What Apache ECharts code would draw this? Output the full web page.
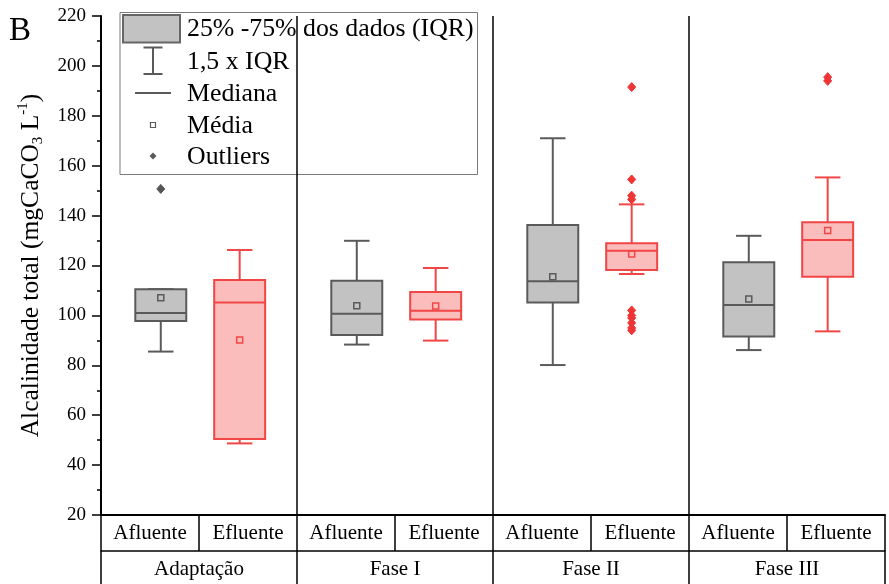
<!DOCTYPE html>
<html>
<head>
<meta charset="utf-8">
<script src="https://cdn.jsdelivr.net/npm/echarts@6/dist/echarts.min.js"></script>
<style>
  html, body { margin: 0; padding: 0; background: #fff; }
  #chart { width: 889px; height: 584px; }
</style>
</head>
<body>
<div id="chart"></div>
<script>
// Alkalinity (mgCaCO3 L-1) per phase, influent vs effluent
const phases = ['Adaptação', 'Fase I', 'Fase II', 'Fase III'];
const streams = ['Afluente', 'Efluente'];

// One entry per box, phase by phase: Afluente then Efluente
const whiskerLow  = [85.5, 48.7, 88.3, 89.9, 80.1, 116.6, 86.1, 93.6];
const q1          = [97.8, 50.5, 92.1, 98.4, 105.2, 118.2, 91.5, 115.5];
const median      = [101.0, 105.2, 100.7, 101.9, 113.7, 125.9, 104.2, 130.2];
const q3          = [110.5, 114.2, 113.9, 109.4, 136.2, 128.9, 121.3, 137.3];
const whiskerHigh = [110.5, 126.2, 129.9, 119.0, 171.0, 144.5, 131.9, 155.3];
const mean        = [107.1, 90.1, 103.9, 103.8, 115.5, 124.6, 106.6, 134.0];
const outliers = [
  [150.7],
  [],
  [],
  [],
  [],
  [191.5, 154.5, 148, 146.5, 102, 100, 99, 97, 95, 94],
  [],
  [195.5, 194]
];

const yMin = 20, yMax = 220, yStep = 20;

const categories = phases.flatMap(() => streams);

const serif = 'Liberation Serif, Times New Roman, serif';
// stroke / fill for Afluente (grey) and Efluente (red)
const STYLE = [
  { stroke: '#5a5a5a', fill: '#c2c2c2', dot: '#555555' },
  { stroke: '#f04646', fill: '#fbbcbc', dot: '#ee3434' }
];
// boxes sit slightly toward the centre of their phase
const SHIFT = [0.11, -0.085];
const BOX_W = 0.52, CAP_W = 0.26;

function boxX(api, i) {
  const band = api.size([1, 0])[0];
  return { cx: api.coord([i, yMin])[0] + SHIFT[i % 2] * band, band };
}

const boxData = categories.map((c, i) => [i, whiskerLow[i], q1[i], median[i], q3[i], whiskerHigh[i]]);
const meanData = categories.map((c, i) => [i, mean[i]]);
const outlierData = [];
outliers.forEach((list, i) => list.forEach(v => outlierData.push([i, v])));

function renderBox(params, api) {
  const i = api.value(0);
  const st = STYLE[i % 2];
  const { cx, band } = boxX(api, i);
  const hw = band * BOX_W / 2, cw = band * CAP_W / 2;
  const y = k => api.coord([i, api.value(k)])[1];
  const line = (x1, y1, x2, y2) => ({
    type: 'line',
    shape: { x1, y1, x2, y2 },
    style: { stroke: st.stroke, lineWidth: 2 }
  });
  return {
    type: 'group',
    children: [
      line(cx, y(5), cx, y(4)),
      line(cx, y(2), cx, y(1)),
      line(cx - cw, y(5), cx + cw, y(5)),
      line(cx - cw, y(1), cx + cw, y(1)),
      {
        type: 'rect',
        shape: { x: cx - hw, y: y(4), width: 2 * hw, height: y(2) - y(4) },
        style: { fill: st.fill, stroke: st.stroke, lineWidth: 2 }
      },
      line(cx - hw, y(3), cx + hw, y(3))
    ]
  };
}

function renderMean(params, api) {
  const i = api.value(0);
  const st = STYLE[i % 2];
  const { cx } = boxX(api, i);
  const cy = api.coord([i, api.value(1)])[1];
  return {
    type: 'rect',
    shape: { x: cx - 3, y: cy - 3, width: 6, height: 6 },
    style: { fill: 'none', stroke: st.stroke, lineWidth: 1.5 }
  };
}

function renderOutlier(params, api) {
  const i = api.value(0);
  const st = STYLE[i % 2];
  const { cx } = boxX(api, i);
  const cy = api.coord([i, api.value(1)])[1];
  return {
    type: 'polygon',
    shape: { points: [[cx, cy - 4.5], [cx + 4, cy], [cx, cy + 4.5], [cx - 4, cy]] },
    style: { fill: st.dot, stroke: st.dot, lineWidth: 1 }
  };
}

// Legend drawn as a framed key in the upper-left corner
const legendGrey = '#5a5a5a';
const legendText = (text, y) => ({
  type: 'text', z: 1,
  style: { text, x: 187, y, font: '25.8px ' + serif, fill: '#000', verticalAlign: 'middle' }
});
const legendItems = [
  { type: 'rect', z: 1, shape: { x: 120, y: 12.5, width: 357.5, height: 162 },
    style: { fill: '#fff', stroke: '#7a7a7a', lineWidth: 1 } },
  { type: 'rect', z: 1, shape: { x: 123, y: 15, width: 57, height: 27.5 },
    style: { fill: '#c2c2c2', stroke: '#666', lineWidth: 2 } },
  { type: 'line', z: 1, shape: { x1: 153, y1: 47.5, x2: 153, y2: 74 }, style: { stroke: legendGrey, lineWidth: 2 } },
  { type: 'line', z: 1, shape: { x1: 143.5, y1: 47.5, x2: 162.5, y2: 47.5 }, style: { stroke: legendGrey, lineWidth: 2 } },
  { type: 'line', z: 1, shape: { x1: 143.5, y1: 74, x2: 162.5, y2: 74 }, style: { stroke: legendGrey, lineWidth: 2 } },
  { type: 'line', z: 1, shape: { x1: 135, y1: 93, x2: 171, y2: 93 }, style: { stroke: legendGrey, lineWidth: 2 } },
  { type: 'rect', z: 1, shape: { x: 150.5, y: 122.5, width: 5, height: 5 },
    style: { fill: 'none', stroke: legendGrey, lineWidth: 1.2 } },
  { type: 'polygon', z: 1, shape: { points: [[153, 152.5], [156.5, 156], [153, 159.5], [149.5, 156]] },
    style: { fill: legendGrey } },
  legendText('25% -75% dos dados (IQR)', 29),
  legendText('1,5 x IQR', 62),
  legendText('Mediana', 94),
  legendText('Média', 126),
  legendText('Outliers', 157),
  { type: 'text', z: 1,
    style: { text: 'B', x: 9, y: 31, font: '33px ' + serif, fill: '#000', verticalAlign: 'middle' } }
];

const chart = echarts.init(document.getElementById('chart'), null, { renderer: 'canvas' });
chart.setOption({
  animation: false,
  backgroundColor: '#fff',
  grid: { left: 101, right: 4, top: 16, bottom: 69, containLabel: false, outerBoundsMode: 'none' },
  xAxis: [
    {
      type: 'category',
      data: categories,
      boundaryGap: true,
      axisLine: { show: true, lineStyle: { color: '#000', width: 2 } },
      axisTick: { show: true, interval: 0, length: 36, lineStyle: { color: '#000', width: 1.5 } },
      axisLabel: { interval: 0, margin: 8, fontFamily: serif, fontSize: 21, color: '#000' },
      splitLine: { show: false }
    },
    {
      type: 'category',
      data: phases,
      position: 'bottom',
      offset: 36,
      z: 3,
      boundaryGap: true,
      axisLine: { show: true, lineStyle: { color: '#000', width: 1.5 } },
      axisTick: { show: true, interval: 0, length: 40, lineStyle: { color: '#000', width: 1.5 } },
      axisLabel: { interval: 0, margin: 8, fontFamily: serif, fontSize: 21, color: '#000' },
      splitLine: { show: true, interval: 0, showMinLine: false, showMaxLine: false,
        lineStyle: { color: '#000', width: 1.5 } }
    }
  ],
  yAxis: {
    type: 'value',
    min: yMin, max: yMax, interval: yStep,
    name: '{a|Alcalinidade total (mgCaCO}{sub|3}{a| L}{sup|-1}{a|)}',
    nameLocation: 'middle',
    nameGap: 55,
    nameTextStyle: {
      fontFamily: serif, color: '#000',
      rich: {
        a: { fontFamily: serif, fontSize: 25.5, lineHeight: 30, color: '#000' },
        sub: { fontFamily: serif, fontSize: 15, lineHeight: 15, verticalAlign: 'bottom', color: '#000' },
        sup: { fontFamily: serif, fontSize: 15, lineHeight: 15, verticalAlign: 'top', color: '#000' }
      }
    },
    axisLine: { show: true, lineStyle: { color: '#000', width: 2 } },
    axisTick: { show: true, length: 9, lineStyle: { color: '#000', width: 1.5 } },
    minorTick: { show: true, splitNumber: 2, length: 4, lineStyle: { color: '#000', width: 1.5 } },
    axisLabel: { margin: 15, fontFamily: serif, fontSize: 19, color: '#000' },
    splitLine: { show: false }
  },
  graphic: { elements: legendItems },
  series: [
    {
      type: 'custom', name: 'box', xAxisIndex: 0,
      data: boxData, encode: { x: 0, y: [1, 2, 3, 4, 5] },
      renderItem: renderBox, z: 4
    },
    {
      type: 'custom', name: 'mean', xAxisIndex: 0,
      data: meanData, encode: { x: 0, y: 1 },
      renderItem: renderMean, z: 5
    },
    {
      type: 'custom', name: 'outliers', xAxisIndex: 0,
      data: outlierData, encode: { x: 0, y: 1 },
      renderItem: renderOutlier, z: 5
    }
  ]
});
</script>
</body>
</html>
